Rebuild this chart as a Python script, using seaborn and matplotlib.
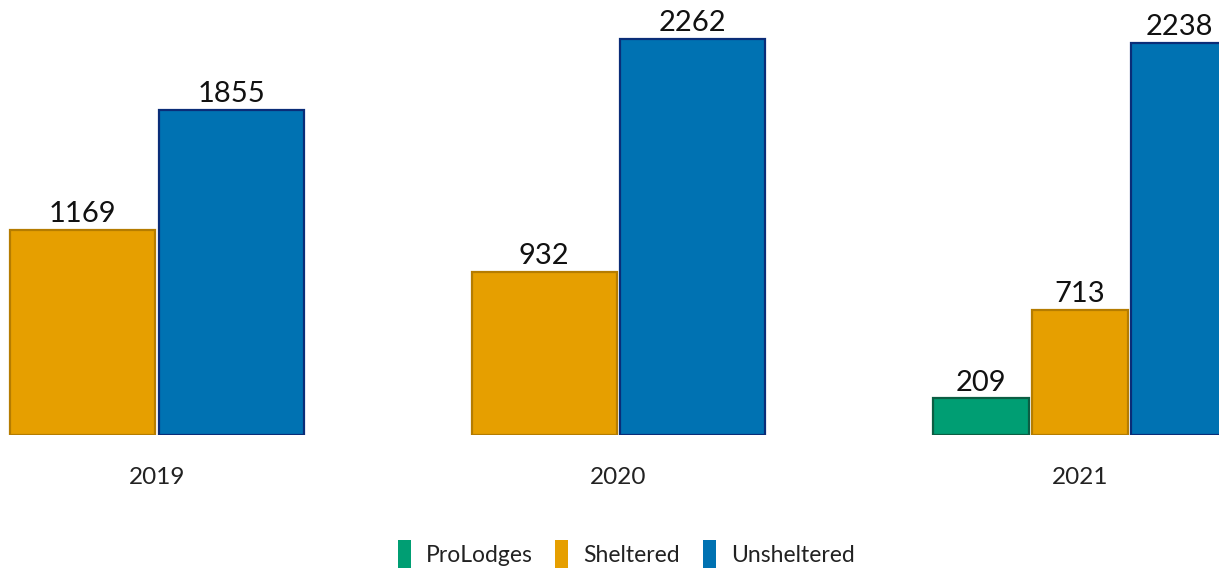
import numpy as np
import pandas as pd
import matplotlib
matplotlib.use("Agg")
import matplotlib.pyplot as plt
from matplotlib.patches import Patch
import seaborn as sns

years = ["2019", "2020", "2021"]
categories = ["ProLodges", "Sheltered", "Unsheltered"]
prolodges = [np.nan, np.nan, 209]
sheltered = [1169, 932, 713]
unsheltered = [1855, 2262, 2238]

colors = {"ProLodges": "#009E73", "Sheltered": "#E69F00", "Unsheltered": "#0072B2"}
edges = {"ProLodges": "#0B5E43", "Sheltered": "#B57C00", "Unsheltered": "#0A2D78"}

rows = []
for gi, y in enumerate(years):
    vals = [(c, v) for c, v in zip(categories, [prolodges[gi], sheltered[gi], unsheltered[gi]]) if not pd.isna(v)]
    n = len(vals)
    slot = 0.644 / n
    for si, (c, v) in enumerate(vals):
        rows.append({"year": y, "group": gi, "pos": gi + (si - (n - 1) / 2) * slot,
                     "category": c, "value": v})
df = pd.DataFrame(rows)

sns.set_theme(style="white")
plt.rcParams["font.family"] = ["Lato", "DejaVu Sans"]

fig = plt.figure(figsize=(12.19, 5.70), dpi=100)
ax = fig.add_axes([0, 135 / 570, 1, 435 / 570])

for gi in range(len(years)):
    sub = df[df["group"] == gi]
    sns.barplot(data=sub, x="pos", y="value", hue="category", palette=colors,
                hue_order=categories, native_scale=True, dodge=False, width=0.975,
                legend=False, ax=ax, saturation=1, linewidth=1.6)

for p in ax.patches:
    fc = matplotlib.colors.to_hex(p.get_facecolor())
    for c, col in colors.items():
        if fc.lower() == col.lower():
            p.set_edgecolor(edges[c])

for cont in ax.containers:
    ax.bar_label(cont, fmt="%d", padding=2, fontsize=21, color="#111111")

ax.set_xlim(-0.340, 2.301)
ax.set_ylim(0, 435 / 0.1752)
ax.set_xticks(range(len(years)))
ax.set_xticklabels(years, fontsize=17.5, color="#222222")
ax.tick_params(axis="x", length=0, pad=23)
ax.set_yticks([])
ax.set_xlabel("")
ax.set_ylabel("")
for s in ax.spines.values():
    s.set_visible(False)

handles = [Patch(facecolor=colors[c], edgecolor="none", label=c) for c in categories]
fig.legend(handles=handles, loc="center", bbox_to_anchor=(626 / 1219, 1 - 554 / 570),
           ncol=3, frameon=False, fontsize=16.5, handlelength=0.57, handleheight=1.45,
           handletextpad=0.65, columnspacing=1.0, labelcolor="#222222",
           borderpad=0.2)

fig.savefig("out.png", dpi=100, facecolor="white")
